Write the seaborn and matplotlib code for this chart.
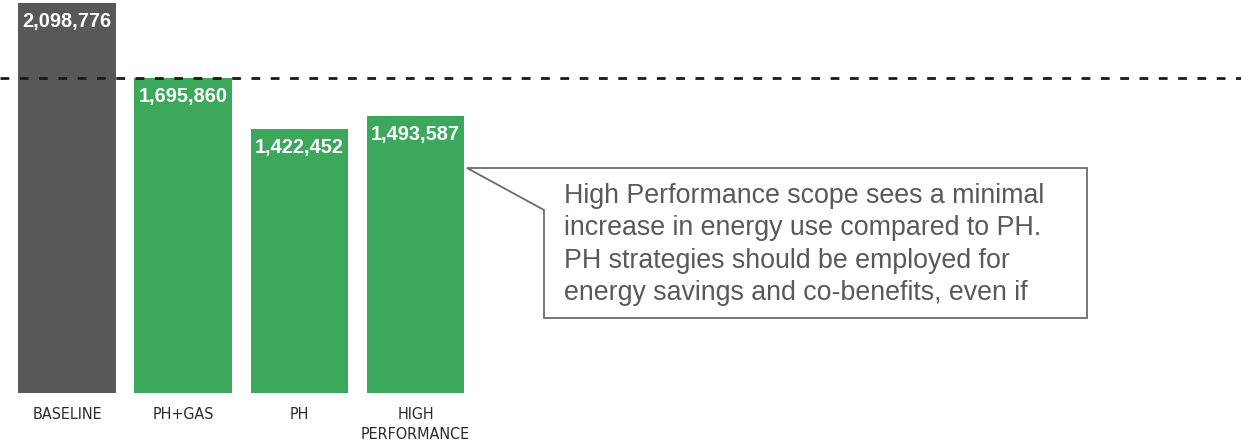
import matplotlib
matplotlib.use("Agg")
import matplotlib.pyplot as plt
from matplotlib.patches import Polygon
import seaborn as sns
import pandas as pd

# Annual energy use by scope
categories = ["BASELINE", "PH+GAS", "PH", "HIGH\nPERFORMANCE"]
energy_use = [2098776, 1695860, 1422452, 1493587]
bar_colors = ["#58585a", "#3ba85b", "#3ba85b", "#3ba85b"]
reference_level = energy_use[1]
note_lines = [
    "High Performance scope sees a minimal",
    "increase in energy use compared to PH.",
    "PH strategies should be employed for",
    "energy savings and co-benefits, even if",
]

sns.set_theme(style="white")
plt.rcParams["font.family"] = ["Liberation Sans", "DejaVu Sans"]
plt.rcParams["lines.scale_dashes"] = False

W, H = 1241, 444
fig = plt.figure(figsize=(W / 100, H / 100), dpi=100)
base_px = 393            # pixel row of the bar baseline
ax = fig.add_axes([0, (H - base_px) / H, 1, base_px / H])

df = pd.DataFrame({"scope": categories, "kwh": energy_use})
sns.barplot(data=df, x="scope", y="kwh", hue="scope", palette=bar_colors,
            width=0.84, legend=False, ax=ax, edgecolor="none", saturation=1)

units_per_px = reference_level / 315.0
ax.set_ylim(0, base_px * units_per_px)
step_px = 116.2
ax.set_xlim(-67 / step_px, -67 / step_px + W / step_px)

for s in ax.spines.values():
    s.set_visible(False)
ax.set_xlabel("")
ax.set_ylabel("")
ax.set_yticks([])
ax.tick_params(axis="x", length=0, pad=10, labelsize=11.5, colors="#2b2b2b")
for lbl in ax.get_xticklabels():
    lbl.set_family("DejaVu Sans")
    lbl.set_stretch("condensed")
    lbl.set_verticalalignment("top")
    lbl.set_linespacing(1.4)

# value labels inside the top of each bar
for i, v in enumerate(energy_use):
    ax.annotate(f"{v:,}", xy=(i, v), xytext=(0, -6.5), textcoords="offset points",
                ha="center", va="top", color="white", fontsize=14.4,
                fontweight="bold")

# dashed reference line at the PH+GAS level, drawn over the bars
ax.axhline(reference_level, color="#1a1a1a", lw=2.0,
           linestyle=(0, (6.3, 7.6)), zorder=4)

# callout box with pointer toward the High Performance bar
def fx(px):
    return px / W

def fy(py):
    return 1 - py / H

pts = [(467, 168), (1087, 168), (1087, 318), (544, 318), (544, 210)]
callout = Polygon([(fx(x), fy(y)) for x, y in pts], closed=True,
                  transform=fig.transFigure, facecolor="white",
                  edgecolor="#6b6b6b", lw=1.3, zorder=5)
fig.add_artist(callout)
fig.text(fx(564), fy(183), "\n".join(note_lines), ha="left", va="top",
         fontsize=19.3, color="#595959", linespacing=1.32, zorder=6)

fig.savefig("out.png", dpi=100)
